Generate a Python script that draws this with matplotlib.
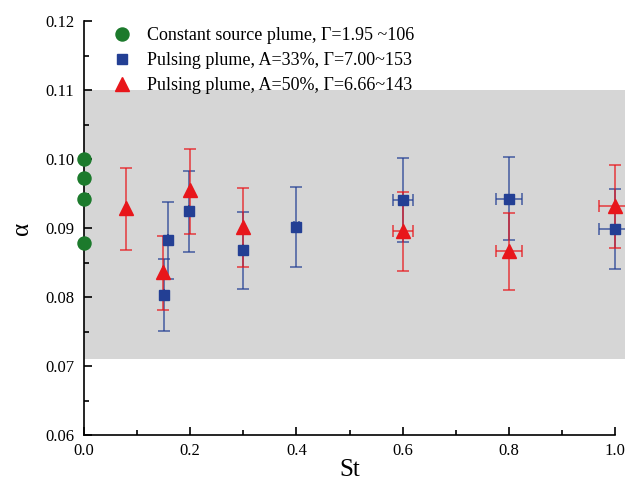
import numpy as np
import matplotlib
matplotlib.use('Agg')
import matplotlib.pyplot as plt
from matplotlib.ticker import FormatStrFormatter

# constant source plume (St = 0)
st_const = [0.0, 0.0, 0.0, 0.0]
alpha_const = [0.100, 0.0972, 0.0942, 0.0878]

# pulsing plume, A=33%
st_33 = [0.15, 0.158, 0.198, 0.30, 0.40, 0.60, 0.80, 1.00]
alpha_33 = [0.0803, 0.0883, 0.0925, 0.0868, 0.0901, 0.0940, 0.0942, 0.0899]
lo_33 = [0.0751, 0.0826, 0.0865, 0.0812, 0.0843, 0.0880, 0.0883, 0.0841]
hi_33 = [0.0855, 0.0938, 0.0983, 0.0923, 0.0959, 0.1001, 0.1003, 0.0957]
xerr_33 = [0, 0, 0, 0, 0.004, 0.019, 0.024, 0.03]

# pulsing plume, A=50%
st_50 = [0.079, 0.149, 0.20, 0.30, 0.60, 0.80, 1.00]
alpha_50 = [0.0929, 0.0836, 0.0955, 0.0902, 0.0896, 0.0867, 0.0932]
lo_50 = [0.0868, 0.0781, 0.0891, 0.0843, 0.0838, 0.0810, 0.0871]
hi_50 = [0.0987, 0.0888, 0.1014, 0.0958, 0.0952, 0.0922, 0.0991]
xerr_50 = [0, 0, 0, 0, 0.019, 0.024, 0.03]

# grey band of values
band_lo, band_hi = 0.071, 0.110

green = '#1c7a2c'
blue = '#233f94'
red = '#e8161b'

plt.rcParams['font.family'] = ['Liberation Serif', 'DejaVu Serif']

fig = plt.figure(figsize=(6.25, 4.82), dpi=100)
ax = fig.add_axes([0.1344, 0.0975, 0.8496, 0.8589])

ax.axhspan(band_lo, band_hi, xmin=0, xmax=1.02, color='#d6d6d6', lw=0,
           clip_on=False, zorder=0)

y33 = np.array(alpha_33)
yerr_33 = [y33 - np.array(lo_33), np.array(hi_33) - y33]
y50 = np.array(alpha_50)
yerr_50 = [y50 - np.array(lo_50), np.array(hi_50) - y50]

e1 = ax.errorbar(st_33, alpha_33, yerr=yerr_33, xerr=xerr_33, fmt='none',
                 ecolor=blue, elinewidth=1.2, capsize=4.5, capthick=1.2,
                 alpha=0.75, zorder=2)
e2 = ax.errorbar(st_50, alpha_50, yerr=yerr_50, xerr=xerr_50, fmt='none',
                 ecolor=red, elinewidth=1.2, capsize=4.5, capthick=1.2,
                 alpha=0.75, zorder=2)
for e in (e1, e2):
    for art in e.lines[1] + e.lines[2]:
        art.set_clip_on(False)

ax.plot(st_const, alpha_const, 'o', color=green, ms=9.4, clip_on=False,
        zorder=4, label='Constant source plume, Γ=1.95 ~106')
ax.plot(st_33, alpha_33, 's', color=blue, ms=7.8, clip_on=False, zorder=3,
        label='Pulsing plume, A=33%, Γ=7.00~153')
ax.plot(st_50, alpha_50, '^', color=red, ms=10.5, clip_on=False, zorder=3,
        label='Pulsing plume, A=50%, Γ=6.66~143')

ax.set_xlim(0, 1.0)
ax.set_ylim(0.06, 0.12)
ax.set_xticks(np.arange(0, 1.01, 0.2))
ax.set_xticks(np.arange(0.1, 1.0, 0.2), minor=True)
ax.set_yticks(np.arange(0.06, 0.121, 0.01))
ax.set_yticks(np.arange(0.065, 0.12, 0.01), minor=True)
ax.xaxis.set_major_formatter(FormatStrFormatter('%.1f'))
ax.yaxis.set_major_formatter(FormatStrFormatter('%.2f'))
ax.tick_params(direction='in', which='major', length=6, width=1.2,
               labelsize=12)
ax.tick_params(direction='in', which='minor', length=3.5, width=1.2)
ax.tick_params(axis='x', which='major', pad=6)
ax.tick_params(axis='y', which='major', pad=7)
for s in ('top', 'right'):
    ax.spines[s].set_visible(False)
for s in ('left', 'bottom'):
    ax.spines[s].set_linewidth(1.2)
ax.set_facecolor('none')

ax.set_xlabel('St', fontsize=18, labelpad=0)
ax.set_ylabel('α', fontsize=18, labelpad=9)

ax.legend(loc='upper left', frameon=False, fontsize=13, handlelength=1.5,
          handletextpad=0.64, labelspacing=0.45, borderpad=0,
          borderaxespad=0, bbox_to_anchor=(0.046, 0.985))

fig.savefig('out.png', dpi=100)
